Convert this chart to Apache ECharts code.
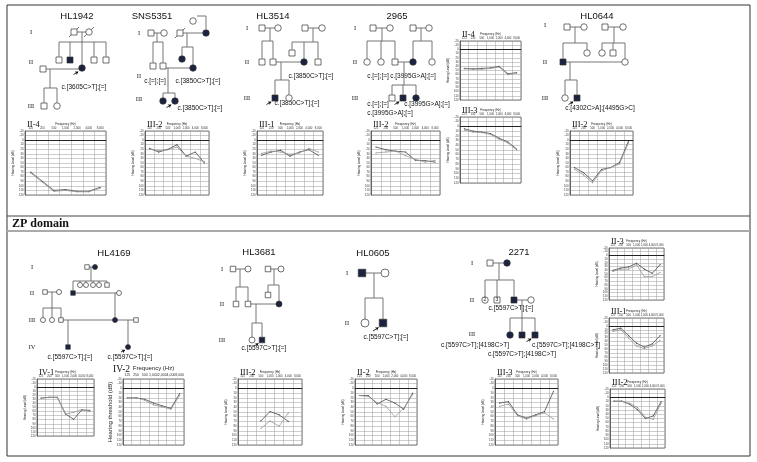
<!DOCTYPE html>
<html><head><meta charset="utf-8">
<script src="https://cdn.jsdelivr.net/npm/echarts@6/dist/echarts.min.js"></script>
<style>html,body{margin:0;padding:0;background:#fff}#c{width:757px;height:462px}</style>
</head><body><div id="c"></div><script>
// ---------- audiogram data ----------
const FREQS = ['125','250','500','1,000','2,000','4,000','8,000'];
const HL1942_II4_R = [70, 90, 110, 108, 112, 112, 103];
const HL1942_II4_L = [72, 92, 112, 110, 113, 113, 105];
const SNS5351_III2_R = [18, 26, 20, 10, 35, 26, 50];
const SNS5351_III2_L = [20, 23, 21, 15, 35, 40, 47];
const HL3514_III1_R = [33, 26, 22, 35, 26, 21, 33];
const HL3514_III1_L = [29, 24, 26, 31, 28, 18, 26];
const F2965_III2_R = [15, 21, 24, 26, 44, 45, 48];
const F2965_III2_L = [28, 26, 24, 34, 42, 48, 44];
const F2965_II4_R = [45, 46, 45, 44, 40, 58, 55];
const F2965_II4_L = [46, 47, 47, 45, 42, 60, 56];
const F2965_III3_R = [5, 10, 12, 15, 25, 33, 48];
const F2965_III3_L = [8, 12, 13, 17, 27, 35, 50];
const HL0644_III2_R = [60, 71, 89, 64, 60, 49, 2];
const HL0644_III2_L = [64, 76, 93, 67, 60, 52, 6];
const HL4169_IV1_R = [27, 25, 25, 66, 79, 56, 57];
const HL4169_IV1_L = [27, 25, 25, 66, 62, 55, 60];
const HL4169_IV2_R = [20, 20, 23, 31, 37, 42, 11];
const HL4169_IV2_L = [20, 20, 25, 35, 39, 44, 15];
const HL3681_III2_R = [null, null, 69, 49, 56, 70, null];
const HL3681_III2_L = [null, null, 85, 69, 80, 52, null];
const HL0605_II2_R = [15, 15, 33, 23, 31, 44, 10];
const HL0605_II2_L = [15, 17, 30, 38, 60, 42, 13];
const F2271_III3_R = [31, 28, 56, 63, 56, 49, 6];
const F2271_III3_L = [38, 33, 58, 65, 58, 52, 65];
const F2271_II3_R = [40, 34, 31, 21, 37, 48, 25];
const F2271_II3_L = [43, 37, 37, 25, 57, 57, 46];
const F2271_III1_R = [10, 6, 25, 44, 54, 46, 25];
const F2271_III1_L = [14, 10, 31, 51, 58, 51, 37];
const F2271_III2_R = [9, 9, 16, 29, 50, 44, 10];
const F2271_III2_L = [9, 9, 14, 24, 47, 52, 14];

// ---------- pedigree members: [x, y, sex, affected, flags] ----------
const HL1942_people = [[74,32,'m',0,'d'],[89,32,'f',0,'d'],[59,60,'m',0],[70,60,'m',1],[82,68,'f',1,'p'],[94,60,'m',0],[106,60,'m',0],[43,69,'m',0],[44,106,'m',0],[57,106,'f',0]];
const HL1942_couples = [[74,89,32],[43,82,69]];
const HL1942_families = [[82,32,42,[[59,60],[70,60],[82,68],[94,60],[106,60]]],[50,69,88,[[44,106],[57,106]]]];
const HL1942_texts = [['c.[3605C>T];[=]',84,87]];

const SNS5351_people = [[151,33,'m',0],[164,33,'f',0],[180,33,'m',0,'d'],[206,33,'f',1],[193,21,'f',0],[153,66,'m',0],[163,66,'m',0],[182,59,'f',1],[193,68,'f',1],[163,101,'f',1],[175,101,'f',1,'p']];
const SNS5351_couples = [[151,164,33],[180,206,33],[163,193,68]];
const SNS5351_families = [[157,33,42,[[153,66],[163,66]]],[187,33,47,[[182,59],[193,68]]],[168,68,93,[[163,101],[175,101]]]];
const SNS5351_extra = [[[197,16],[206,16],[206,29]]];
const SNS5351_texts = [['c.[=];[=]',155,81],['c.[3850C>T];[=]',198,81],['c.[3850C>T];[=]',200,108]];

const HL3514_people = [[262,28,'m',0],[278,28,'f',0],[305,28,'m',0],[322,28,'f',0],[262,62,'m',0],[273,62,'m',0],[292,53,'m',0],[304,62,'f',1],[318,62,'m',0],[275,98,'m',1,'p'],[289,98,'f',0]];
const HL3514_couples = [[262,278,28],[305,322,28],[273,304,62]];
const HL3514_families = [[270,28,41,[[262,62],[273,62]]],[313,28,42,[[292,53],[304,62],[318,62]]],[281,62,80,[[275,98],[289,98]]]];
const HL3514_texts = [['c.[3850C>T];[=]',311,76],['c.[3850C>T];[=]',297,103]];

const F2965_people = [[373,28,'m',0],[390,28,'f',0],[413,28,'m',0],[429,28,'f',0],[367,62,'f',0],[381,62,'f',0],[395,62,'m',0],[413,62,'f',1],[432,62,'f',0],[392,98,'m',0],[403,98,'m',1,'p'],[416,98,'f',1]];
const F2965_couples = [[373,390,28],[413,429,28],[395,413,62]];
const F2965_families = [[382,28,41,[[367,62],[381,62],[395,62]]],[421,28,41,[[413,62],[432,62]]],[404,62,85,[[392,98],[403,98],[416,98]]]];
const F2965_texts = [['c.[=];[=]',378,76],['c.[3995G>A];[=]',413,76],['c.[=];[=]',378,104],['c.[3995G>A];[=]',427,104],['c.[3995G>A];[=]',390,113]];

const HL0644_people = [[567,27,'m',0],[584,27,'f',0],[605,27,'m',0],[623,27,'f',0],[563,62,'m',1],[587,53,'f',0],[602,53,'f',0],[613,53,'m',0],[625,62,'f',0],[565,98,'f',0],[577,98,'m',1,'p']];
const HL0644_couples = [[567,584,27],[605,623,27],[563,625,62]];
const HL0644_families = [[575,27,43,[[563,62],[587,53]]],[614,27,43,[[602,53],[613,53],[625,62]]],[570,62,80,[[565,98],[577,98]]]];
const HL0644_texts = [['c.[4302C>A];[4495G>C]',600,108]];

const HL4169_people = [[87,267,'m',0],[95,267,'f',1],[80,285,'f',0],[86,285,'f',0],[93,285,'f',0],[99,285,'f',0],[107,285,'m',0],[73,293,'m',1],[45,292,'m',0],[59,292,'f',0],[119,293,'f',0],[43,320,'f',0],[52,320,'f',0],[61,320,'m',0],[115,320,'f',1],[136,320,'m',0],[68,347,'m',1],[128,347,'f',1,'p']];
const HL4169_couples = [[87,95,267],[45,59,292],[73,119,293],[61,115,320],[115,136,320]];
const HL4169_families = [[91,267,281,[[73,293],[80,285],[86,285],[93,285],[99,285],[107,285]]],[52,292,308,[[43,320],[52,320],[61,320]]],[115,293,305,[[115,320]]],[68,320,335,[[68,347]]],[128,320,335,[[128,347]]]];
const HL4169_texts = [['c.[5597C>T];[=]',70,357],['c.[5597C>T];[=]',130,357]];

const HL3681_people = [[233,269,'m',0],[248,269,'f',0],[268,269,'m',0],[281,269,'f',0],[236,304,'m',0],[248,304,'m',0],[268,295,'m',0],[279,304,'f',1],[252,340,'f',0],[262,340,'m',1,'p']];
const HL3681_couples = [[233,248,269],[268,281,269],[248,279,304]];
const HL3681_families = [[240,269,287,[[236,304],[248,304]]],[274,269,285,[[268,295],[279,304]]],[256,304,323,[[252,340],[262,340]]]];
const HL3681_texts = [['c.[5597C>T];[=]',264,348]];

const HL0605_people = [[362,273,'m',1],[385,273,'f',0],[365,323,'f',0],[383,323,'m',1,'p']];
const HL0605_couples = [[362,385,273]];
const HL0605_families = [[374,273,298,[[365,323],[383,323]]]];
const HL0605_texts = [['c.[5597C>T];[=]',386,337]];

const F2271_people = [[490,263,'m',0],[507,263,'f',1],[485,300,'f',0,'2'],[497,300,'m',0,'3'],[514,300,'m',1],[531,300,'f',0],[510,335,'f',1],[522,335,'m',1],[535,335,'m',1,'p']];
const F2271_couples = [[490,507,263],[514,531,300]];
const F2271_families = [[499,263,280,[[485,300],[497,300],[514,300]]],[522,300,318,[[510,335],[522,335],[535,335]]]];
const F2271_texts = [['c.[5597C>T];[=]',511,308],['c.[5597C>T];[4198C>T]',475,345],['c.[5597C>T];[4198C>T]',566,345],['c.[5597C>T];[4198C>T]',522,354]];

// ---------- layout ----------
const AUDIO = [
  {t:'II-4', r:HL1942_II4_R, l:HL1942_II4_L, box:[25,131,81,64]},
  {t:'III-2', r:SNS5351_III2_R, l:SNS5351_III2_L, box:[145,131,64,64]},
  {t:'III-1', r:HL3514_III1_R, l:HL3514_III1_L, box:[257,131,66,64]},
  {t:'III-2', r:F2965_III2_R, l:F2965_III2_L, box:[371,131,69,64]},
  {t:'II-4', r:F2965_II4_R, l:F2965_II4_L, box:[460,41,61,59]},
  {t:'III-3', r:F2965_III3_R, l:F2965_III3_L, box:[460,117,61,66]},
  {t:'III-2', r:HL0644_III2_R, l:HL0644_III2_L, box:[570,131,63,64]},
  {t:'IV-1', r:HL4169_IV1_R, l:HL4169_IV1_L, box:[37,379,57,57]},
  {t:'IV-2', r:HL4169_IV2_R, l:HL4169_IV2_L, box:[123,379,61,66], big:true},
  {t:'III-2', r:HL3681_III2_R, l:HL3681_III2_L, box:[238,379,64,66]},
  {t:'II-2', r:HL0605_II2_R, l:HL0605_II2_L, box:[355,379,62,66]},
  {t:'III-3', r:F2271_III3_R, l:F2271_III3_L, box:[495,379,63,66]},
  {t:'II-3', r:F2271_II3_R, l:F2271_II3_L, box:[609,248,55,52]},
  {t:'III-1', r:F2271_III1_R, l:F2271_III1_L, box:[609,318,55,55]},
  {t:'III-2', r:F2271_III2_R, l:F2271_III2_L, box:[610,389,55,59]}
];
const PEDS = [
  {title:'HL1942', tp:[77,16], size:6.5, gens:[['I',31,32],['II',31,62],['III',31,106]], people:HL1942_people, couples:HL1942_couples, families:HL1942_families, texts:HL1942_texts},
  {title:'SNS5351', tp:[152,16], size:6.5, gens:[['I',139,33],['II',139,76],['III',139,99]], people:SNS5351_people, couples:SNS5351_couples, families:SNS5351_families, texts:SNS5351_texts, extra:SNS5351_extra},
  {title:'HL3514', tp:[273,16], size:6.5, gens:[['I',247,28],['II',247,62],['III',247,98]], people:HL3514_people, couples:HL3514_couples, families:HL3514_families, texts:HL3514_texts},
  {title:'2965', tp:[397,16], size:6.5, gens:[['I',355,28],['II',355,62],['III',355,98]], people:F2965_people, couples:F2965_couples, families:F2965_families, texts:F2965_texts},
  {title:'HL0644', tp:[597,16], size:6.5, gens:[['I',545,25],['II',545,62],['III',545,98]], people:HL0644_people, couples:HL0644_couples, families:HL0644_families, texts:HL0644_texts},
  {title:'HL4169', tp:[114,253], size:5, gens:[['I',32,267],['II',32,293],['III',32,320],['IV',32,347]], people:HL4169_people, couples:HL4169_couples, families:HL4169_families, texts:HL4169_texts},
  {title:'HL3681', tp:[259,252], size:6, gens:[['I',222,269],['II',222,304],['III',222,340]], people:HL3681_people, couples:HL3681_couples, families:HL3681_families, texts:HL3681_texts},
  {title:'HL0605', tp:[373,253], size:8, gens:[['I',347,273],['II',347,323]], people:HL0605_people, couples:HL0605_couples, families:HL0605_families, texts:HL0605_texts},
  {title:'2271', tp:[519,252], size:6.5, gens:[['I',472,263],['II',472,300],['III',472,334]], people:F2271_people, couples:F2271_couples, families:F2271_families, texts:F2271_texts}
];

const NAVY = '#1b2340';
const grids = [], xAxes = [], yAxes = [], series = [], graphics = [];
const SERIF = '"Liberation Serif","DejaVu Serif",serif';
const SANS = '"Liberation Sans",Arial,sans-serif';

AUDIO.forEach((a, i) => {
  const [L, T, W, H] = a.box;
  grids.push({left:L, top:T, width:W, height:H, show:true, borderColor:'#444', borderWidth:0.7, outerBoundsMode:'none', containLabel:false});
  const nf = a.big ? 6 : 3;
  xAxes.push({gridIndex:i, type:'category', data:FREQS, boundaryGap:true, position:'top',
    axisLabel:{fontSize:a.big?3.5:2.8, margin:1.5, interval:0, color:'#333', fontFamily:SANS},
    axisTick:{show:false}, axisLine:{show:true, lineStyle:{color:'#444', width:0.7}},
    splitLine:{show:true, interval:0, lineStyle:{color:'#9a9a9a', width:0.5}},
    name:'Frequency (Hz)', nameLocation:'middle', nameGap:a.big?8:5,
    nameTextStyle:{fontSize:nf, color:'#222', fontFamily:SANS}});
  yAxes.push({gridIndex:i, type:'value', inverse:true, min:-20, max:120, interval:10,
    axisLabel:{fontSize:2.8, margin:1.5, color:'#333', fontFamily:SANS},
    axisTick:{show:false}, axisLine:{show:true, lineStyle:{color:'#444', width:0.7}},
    splitLine:{show:true, lineStyle:{color:'#9a9a9a', width:0.5}},
    name:a.big?'Hearing threshold (dB)':'Hearing Level (dB)', nameLocation:'middle', nameRotate:90,
    nameGap:a.big?8:7, nameTextStyle:{fontSize:nf, color:'#222', fontFamily:SANS}});
  series.push({type:'line', xAxisIndex:i, yAxisIndex:i, data:a.r, symbol:'circle', symbolSize:1.2,
    lineStyle:{color:'#4a4a4a', width:0.8}, itemStyle:{color:'#4a4a4a'}, connectNulls:false, animation:false,
    markLine:{silent:true, symbol:'none', label:{show:false}, lineStyle:{color:'#222', width:1, type:'solid'}, data:[{yAxis:0}]}});
  series.push({type:'line', xAxisIndex:i, yAxisIndex:i, data:a.l, symbol:'circle', symbolSize:1.2,
    lineStyle:{color:'#999', width:0.8}, itemStyle:{color:'#999'}, connectNulls:false, animation:false});
  graphics.push({type:'text', left:a.big ? L - 10 : L + 2, top:T - (a.big ? 15 : 11), style:{text:a.t, font:(a.big?'9.5px ':'8.5px ') + SERIF, fill:'#111'}});
});

// overlay grid mapping pixels for pedigrees
const OI = AUDIO.length;
grids.push({left:0, top:0, width:757, height:462, show:false, outerBoundsMode:'none'});
xAxes.push({gridIndex:OI, type:'value', min:0, max:757, show:false});
yAxes.push({gridIndex:OI, type:'value', min:0, max:462, inverse:true, show:false});

const symData = {mU:[], mA:[], fU:[], fA:[]};
const lineData = [], arrowData = [];
PEDS.forEach(p => {
  const s = p.size;
  p.people.forEach(q => {
    const [x, y, sex, aff, fl] = q;
    const key = sex + (aff ? 'A' : 'U');
    const item = {value:[x, y], symbolSize: sex === 'm' ? s - 0.5 : s};
    if (fl === '2' || fl === '3') item.label = {show:true, formatter:fl, fontSize:5, color:'#222', position:'inside'};
    symData[key].push(item);
    if (fl === 'd') lineData.push({coords:[[x - 5, y + 5], [x + 5, y - 5]]});
    if (fl === 'p') arrowData.push({coords:[[x - s - 2, y + s], [x - s / 2 - 0.5, y + s / 2 + 0.5]]});
  });
  p.couples.forEach(c => lineData.push({coords:[[c[0], c[2]], [c[1], c[2]]]}));
  p.families.forEach(f => {
    const [px, py, ly, kids] = f;
    lineData.push({coords:[[px, py], [px, ly]]});
    const xs = kids.map(k => k[0]).concat([px]);
    lineData.push({coords:[[Math.min(...xs), ly], [Math.max(...xs), ly]]});
    kids.forEach(k => lineData.push({coords:[[k[0], ly], [k[0], k[1] - s / 2]]}));
  });
  (p.extra || []).forEach(e => lineData.push({coords:e}));
  graphics.push({type:'text', x:p.tp[0], y:p.tp[1], style:{text:p.title, font:'9.5px ' + SANS, fill:'#111', textAlign:'center', textVerticalAlign:'middle'}});
  p.gens.forEach(g => graphics.push({type:'text', x:g[1], y:g[2], style:{text:g[0], font:'6.5px ' + SERIF, fill:'#222', textAlign:'center', textVerticalAlign:'middle'}}));
  p.texts.forEach(t => graphics.push({type:'text', x:t[1], y:t[2], style:{text:t[0], font:'6.5px ' + SANS, fill:'#111', textAlign:'center', textVerticalAlign:'middle'}}));
});

series.push({type:'lines', coordinateSystem:'cartesian2d', xAxisIndex:OI, yAxisIndex:OI, polyline:true, data:lineData,
  lineStyle:{color:'#666', width:0.9, opacity:1}, animation:false, silent:true, z:1});
series.push({type:'lines', coordinateSystem:'cartesian2d', xAxisIndex:OI, yAxisIndex:OI, data:arrowData,
  symbol:['none','arrow'], symbolSize:3, lineStyle:{color:'#111', width:0.9, opacity:1}, animation:false, silent:true, z:3});
const symStyle = {
  mU:{symbol:'rect', color:'#fff'}, mA:{symbol:'rect', color:NAVY},
  fU:{symbol:'circle', color:'#fff'}, fA:{symbol:'circle', color:NAVY}
};
Object.keys(symData).forEach(k => {
  series.push({type:'scatter', xAxisIndex:OI, yAxisIndex:OI, data:symData[k], symbol:symStyle[k].symbol,
    itemStyle:{color:symStyle[k].color, borderColor:'#333', borderWidth:0.7, opacity:1}, animation:false, silent:true, z:2});
});

// frame
graphics.push({type:'rect', shape:{x:7, y:5, width:743, height:451}, style:{fill:'none', stroke:'#333', lineWidth:1}, z:-1});
graphics.push({type:'line', shape:{x1:7, y1:216, x2:750, y2:216}, style:{stroke:'#444', lineWidth:1}});
graphics.push({type:'line', shape:{x1:7, y1:231, x2:750, y2:231}, style:{stroke:'#aaa', lineWidth:2}});
graphics.push({type:'text', left:12, top:218, style:{text:'ZP domain', font:'bold 12px ' + SERIF, fill:'#111'}});

const chart = echarts.init(document.getElementById('c'), null, {renderer:'canvas'});
chart.setOption({animation:false, grid:grids, xAxis:xAxes, yAxis:yAxes, series:series, graphic:graphics});
</script></body></html>
